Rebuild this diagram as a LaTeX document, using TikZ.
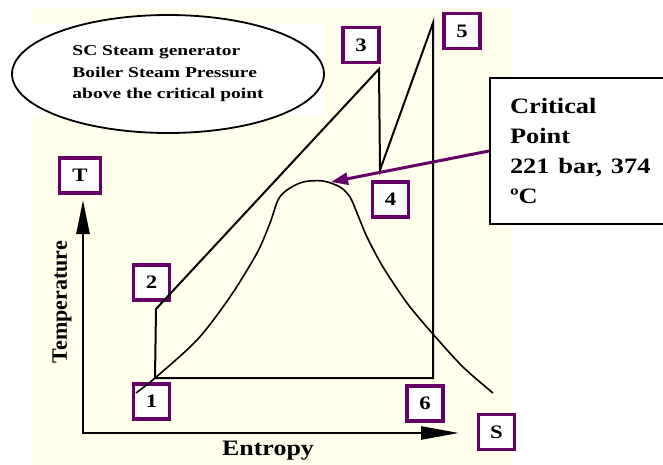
\documentclass[tikz,border=0pt]{standalone}
\usepackage{fontspec}
\setmainfont{Liberation Serif}
\usepackage{graphicx}
\usepackage{tikz}
\usetikzlibrary{shapes.geometric, arrows.meta, positioning}
\definecolor{boxpurple}{HTML}{660066}
\definecolor{papercream}{HTML}{FFFFEC}
\newcommand{\wide}[2][1.2]{\scalebox{#1}[1]{#2}}
\tikzstyle{numbox} = [draw=boxpurple, line width=3.3pt, fill=white, minimum width=36pt, minimum height=35pt, inner sep=0pt, font=\bfseries\fontsize{19}{19}\selectfont]
\tikzstyle{notebubble} = [draw, ellipse, line width=1.8pt, fill=white, minimum width=312pt, minimum height=118pt, align=left, font=\bfseries\fontsize{15}{21.5}\selectfont]
\tikzstyle{critbox} = [draw, rectangle, line width=2pt, fill=white, text width=142pt, inner xsep=20pt, minimum height=146pt, align=left, font=\bfseries\fontsize{22}{30}\selectfont]
\tikzstyle{axislabel} = [font=\bfseries\fontsize{22}{22}\selectfont]
\tikzstyle{axisarrw} = [line width=2.5pt, {Triangle[length=34pt, width=13pt]}-{Triangle[length=38pt, width=13pt]}]
\tikzstyle{cycleline} = [line width=2pt, line join=miter]
\tikzstyle{domeline} = [line width=1.6pt]
\tikzstyle{pointarrw} = [line width=3pt, color=boxpurple, -{Triangle[length=17pt, width=12pt]}]

\begin{document}
\begin{tikzpicture}[x=1pt, y=-1pt]
    \useasboundingbox (0,0) rectangle (663,465);
    \fill[papercream] (33,8) rectangle (512,465);
    \fill[white] (0,24) rectangle (323,115);

    \node (bubble) [notebubble] at (168,74) {\wide[1.3]{SC Steam generator}\\ \wide[1.3]{Boiler Steam Pressure}\\ \wide[1.3]{above the critical point}};

    \node (lblT) [numbox, minimum width=41pt] at (80,175.5) {\wide{T}};
    \node (lbl2) [numbox] at (151.5,282.5) {\wide{2}};
    \node (lbl1) [numbox] at (151.5,401.5) {\wide{1}};
    \node (lbl6) [numbox] at (425,403.5) {\wide{6}};
    \node (lblS) [numbox] at (496.5,432) {\wide{S}};
    \node (lbl3) [numbox] at (361,45) {\wide{3}};
    \node (lbl5) [numbox] at (462,31) {\wide{5}};
    \node (lbl4) [numbox] at (390.5,199.5) {\wide{4}};

    % T-s axes
    \coordinate (origin) at (83,433);
    \coordinate (ttip) at (83,200);
    \coordinate (stip) at (459,433);
    \draw [axisarrw] (ttip) -- (origin) -- (stip);
    \node (templbl) [axislabel, rotate=90] at (62,302) {Temperature};
    \node (entlbl) [axislabel] at (268,451) {\wide[1.18]{Entropy}};

    % saturation dome
    \draw [domeline] plot[smooth, tension=0.5] coordinates {(136,393) (155,378) (197,340) (230,297) (257,253) (270,223) (278,200) (287,190) (303,182) (323,181) (340,187) (350,197) (357,213) (367,237) (383,267) (407,303) (432,333) (463,367) (493,393)};

    % cycle
    \coordinate (c1) at (155,378);
    \coordinate (c2) at (156,309);
    \coordinate (c3) at (379,69);
    \coordinate (c4) at (380,170);
    \coordinate (c5) at (433,23);
    \coordinate (c6) at (433,378);
    \draw [cycleline] (c1) -- (c2) -- (c3) -- (c4) -- (c5) -- (c6) -- cycle;

    \node (crit) [critbox, anchor=north west] at (489,77) {\wide{Critical}\\ \wide{Point}\\ \wide{221 bar, 374}\\ \wide{ºC}};
    \coordinate (cpeak) at (331,182);
    \draw [pointarrw] (crit.west) -- (cpeak);
\end{tikzpicture}
\end{document}
